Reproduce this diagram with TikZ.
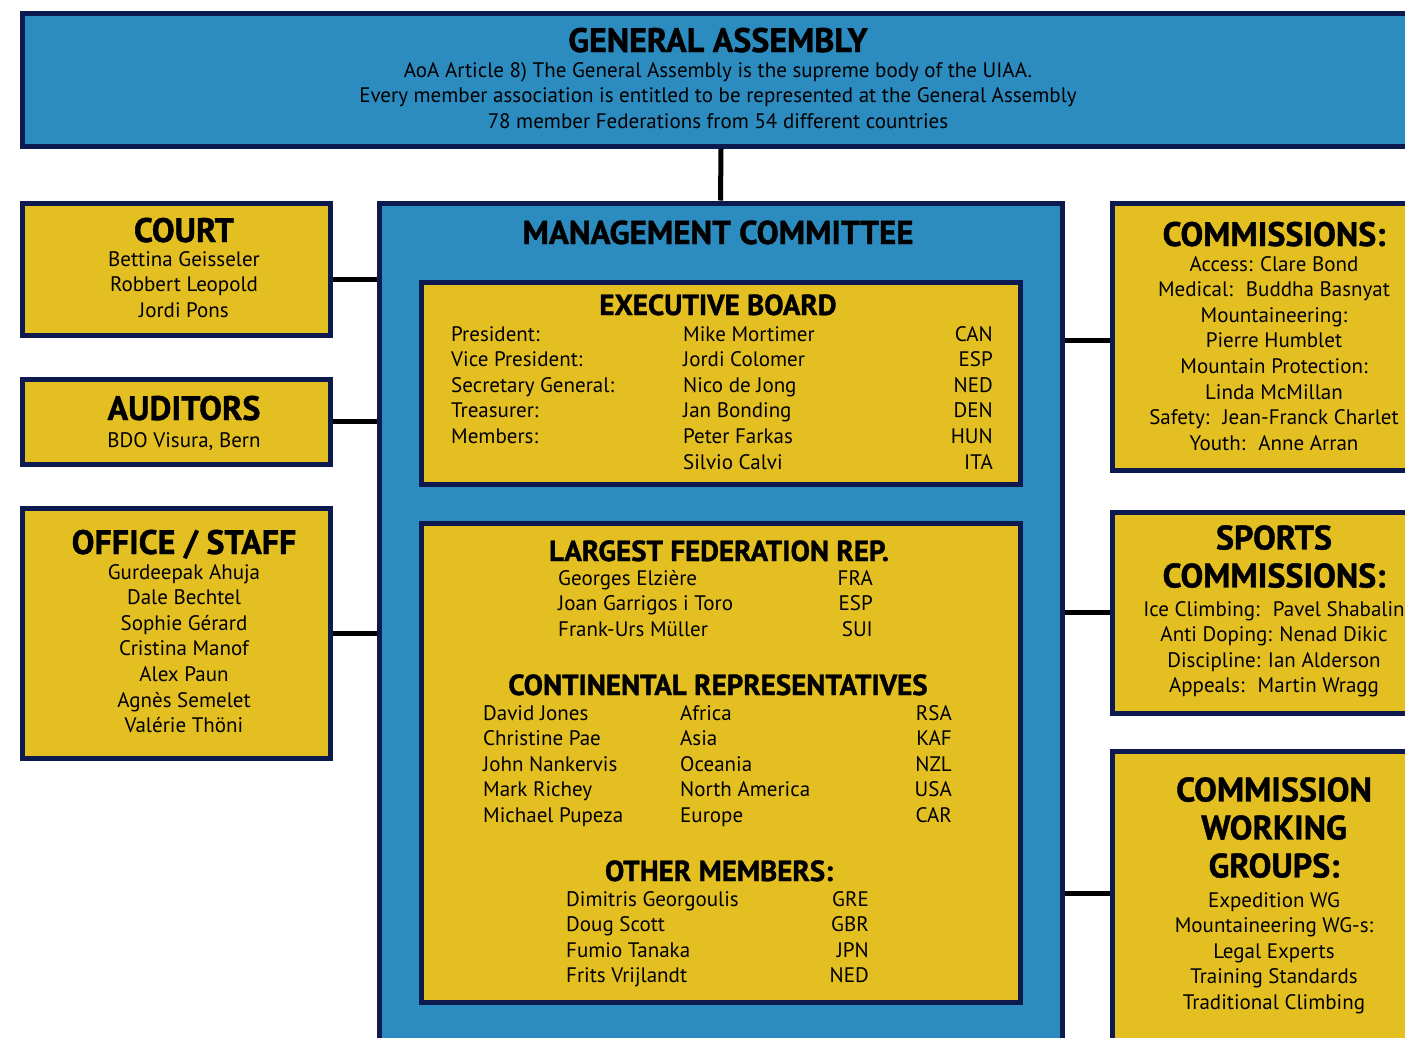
\documentclass[tikz,border=0pt]{standalone}
\usepackage{xcolor}
\usepackage{fontspec}
\setmainfont{PT Sans}
\newfontfamily\heavyfont[FakeBold=1.2]{PT Sans Bold}
\usepackage{tikz}

\definecolor{navy}{HTML}{0C1A4F}
\definecolor{uiaablue}{HTML}{2C8BBF}
\definecolor{uiaagold}{HTML}{E3BF22}

\newcommand{\bodyfont}{\fontsize{21}{25.6}\selectfont}
\newcommand{\headfont}{\heavyfont\fontsize{34}{38}\selectfont}
\newcommand{\subheadfont}{\heavyfont\fontsize{29}{32}\selectfont}

\tikzset{
  bluebox/.style={draw=navy, fill=uiaablue, line width=5pt, inner sep=0pt, anchor=north west},
  goldbox/.style={draw=navy, fill=uiaagold, line width=5pt, inner sep=0pt, anchor=north west},
  link/.style={line width=5pt, black},
  head/.style={inner sep=0pt, anchor=base, font=\headfont},
  subhead/.style={inner sep=0pt, anchor=base, font=\subheadfont},
  headlines/.style={inner sep=0pt, anchor=north, align=center, font=\headfont,
    execute at begin node={\rule{0pt}{28pt}}},
  lines/.style={inner sep=0pt, anchor=north, align=center, font=\bodyfont,
    execute at begin node={\rule{0pt}{18pt}}},
  colleft/.style={lines, anchor=north west, align=left},
  colright/.style={lines, anchor=north east, align=right}
}

\begin{document}
\begin{tikzpicture}[x=1pt, y=-1pt]
    \useasboundingbox (0,0) rectangle (1405,1037);
    \clip (0,0) rectangle (1405,1037);
    % 绘制方框
    \node[bluebox, minimum width=1398, minimum height=133] (ga) at (19.5,10.5) {};
    \node[goldbox, minimum width=308, minimum height=132] (court) at (19.5,200.5) {};
    \node[goldbox, minimum width=308, minimum height=85] (auditors) at (19.5,376.5) {};
    \node[goldbox, minimum width=308, minimum height=250] (office) at (19.5,505.5) {};
    \node[bluebox, minimum width=683, minimum height=900] (mc) at (376.5,200.5) {};
    \node[goldbox, minimum width=599, minimum height=202] (exec) at (418.5,279.5) {};
    \node[goldbox, minimum width=599, minimum height=479] (reps) at (418.5,520.5) {};
    \node[goldbox, minimum width=330, minimum height=267] (comm) at (1109.5,200.5) {};
    \node[goldbox, minimum width=330, minimum height=201] (sports) at (1109.5,509.5) {};
    \node[goldbox, minimum width=330, minimum height=400] (wg) at (1109.5,748.5) {};
    % 绘制连线
    \coordinate (courtlink) at ([yshift=-10.5pt]court.east);
    \coordinate (commlink) at ([yshift=-4pt]comm.west);
    \coordinate (wglink) at ([yshift=57.5pt]wg.west);
    \draw[link] (ga.south) -- (mc.north);
    \draw[link] (courtlink) -- (courtlink -| mc.west);
    \draw[link] (auditors.east) -- (auditors.east -| mc.west);
    \draw[link] (office.east) -- (office.east -| mc.west);
    \draw[link] (mc.east |- commlink) -- (commlink);
    \draw[link] (mc.east |- sports.west) -- (sports.west);
    \draw[link] (mc.east |- wglink) -- (wglink);
    % 标注文字
    \node[head] (gatitle) at (718,52) {GENERAL ASSEMBLY};
    \node[lines] (gatext) at (718,62) {AoA Article 8) The General Assembly is the supreme body of the UIAA.\\
      Every member association is entitled to be represented at the General Assembly\\
      78 member Federations from 54 different countries};
    \node[head] (courttitle) at (184,242) {COURT};
    \node[lines] (courttext) at (184,251) {Bettina Geisseler\\Robbert Leopold\\Jordi Pons};
    \node[head] (audtitle) at (184,420) {AUDITORS};
    \node[lines] (audtext) at (184,429) {BDO Visura, Bern};
    \node[head] (officetitle) at (184,554) {OFFICE / STAFF};
    \node[lines] (officetext) at (184,564) {Gurdeepak Ahuja\\Dale Bechtel\\Sophie Gérard\\Cristina Manof\\Alex Paun\\Agnès Semelet\\Valérie Thöni};
    \node[head, font=\heavyfont\fontsize{33}{38}\selectfont] (mctitle) at (718,244) {MANAGEMENT COMMITTEE};
    \node[subhead] (exectitle) at (718,315) {EXECUTIVE BOARD};
    \node[colleft] (execrole) at (451,326) {President:\\Vice President:\\Secretary General:\\Treasurer:\\Members:};
    \node[colleft] (execname) at (683,326) {Mike Mortimer\\Jordi Colomer\\Nico de Jong\\Jan Bonding\\Peter Farkas\\Silvio Calvi};
    \node[colright] (execnat) at (993,326) {CAN\\ESP\\NED\\DEN\\HUN\\ITA};
    \node[subhead] (fedtitle) at (719,561) {LARGEST FEDERATION REP.};
    \node[colleft] (fedname) at (558,570) {Georges Elzière\\Joan Garrigos i Toro\\Frank-Urs Müller};
    \node[colright] (fednat) at (873,570) {FRA\\ESP\\SUI};
    \node[subhead] (contitle) at (718,695) {CONTINENTAL REPRESENTATIVES};
    \node[colleft] (conname) at (483,705) {David Jones\\Christine Pae\\John Nankervis\\Mark Richey\\Michael Pupeza};
    \node[colleft] (conarea) at (680,705) {Africa\\Asia\\Oceania\\North America\\Europe};
    \node[colright] (connat) at (952,705) {RSA\\KAF\\NZL\\USA\\CAR};
    \node[subhead] (othtitle) at (719,881) {OTHER MEMBERS:};
    \node[colleft] (othname) at (566,891) {Dimitris Georgoulis\\Doug Scott\\Fumio Tanaka\\Frits Vrijlandt};
    \node[colright] (othnat) at (869,891) {GRE\\GBR\\JPN\\NED};
    \node[head] (commtitle) at (1274,246) {COMMISSIONS:};
    \node[lines] (commtext) at (1274,256) {Access: Clare Bond\\Medical:~ Buddha Basnyat\\Mountaineering:\\Pierre Humblet\\Mountain Protection:\\Linda McMillan\\Safety:~ Jean-Franck Charlet\\Youth:~ Anne Arran};
    \node[headlines] (sportstitle) at (1274,525) {SPORTS\\COMMISSIONS:};
    \node[lines] (sportstext) at (1274,601) {Ice Climbing:~ Pavel Shabalin\\Anti Doping: Nenad Dikic\\Discipline: Ian Alderson\\Appeals:~ Martin Wragg};
    \node[headlines] (wgtitle) at (1274,777) {COMMISSION\\WORKING\\GROUPS:};
    \node[lines] (wgtext) at (1274,892) {Expedition WG\\Mountaineering WG-s:\\Legal Experts\\Training Standards\\Traditional Climbing};
\end{tikzpicture}
\end{document}
